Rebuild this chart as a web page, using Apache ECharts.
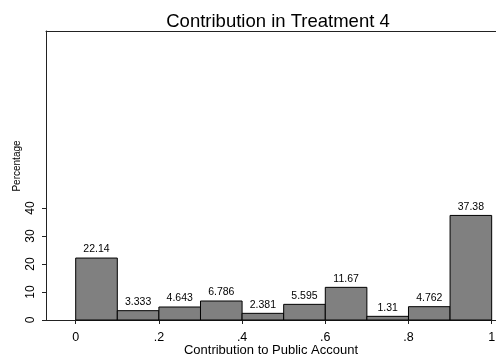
<!DOCTYPE html>
<html>
<head>
<meta charset="utf-8">
<script src="https://cdn.jsdelivr.net/npm/echarts@6/dist/echarts.min.js"></script>
<style>
  html, body { margin: 0; padding: 0; background: #fff; }
  #chart { width: 496px; height: 358px; }
</style>
</head>
<body>
<div id="chart"></div>
<script>
// Histogram bins (lower edge, upper edge) and their percentages
const binStarts = [0, 0.1, 0.2, 0.3, 0.4, 0.5, 0.6, 0.7, 0.8, 0.9];
const binWidth = 0.1;
const percentages = [22.14, 3.333, 4.643, 6.786, 2.381, 5.595, 11.67, 1.31, 4.762, 37.38];
const percentLabels = ['22.14', '3.333', '4.643', '6.786', '2.381', '5.595', '11.67', '1.31', '4.762', '37.38'];
const xTicks = [0, 0.2, 0.4, 0.6, 0.8, 1];
const xTickLabels = ['0', '.2', '.4', '.6', '.8', '1'];
const yTicks = [0, 10, 20, 30, 40];

const font = 'Liberation Sans, Arial, Helvetica, sans-serif';
const chart = echarts.init(document.getElementById('chart'), null, { renderer: 'canvas' });

const data = binStarts.map((s, i) => [s, s + binWidth, percentages[i], percentLabels[i]]);
const xMin = -0.0714, xMax = 1.0104;

chart.setOption({
  animation: false,
  backgroundColor: '#fff',
  title: {
    text: 'Contribution in Treatment 4',
    left: 273, top: 7, textAlign: 'center',
    textStyle: { fontFamily: font, fontSize: 18.5, fontWeight: 'normal', color: '#000' }
  },
  graphic: [{
    type: 'text', x: 17, y: 166, rotation: Math.PI / 2,
    style: { text: 'Percentage', font: '10px ' + font, fill: '#000', align: 'center', verticalAlign: 'middle' }
  }],
  grid: { left: 46, right: 0, top: 31, bottom: 38, containLabel: false, outerBoundsMode: 'none' },
  xAxis: [{
    type: 'value', min: xMin, max: xMax,
    name: 'Contribution to Public Account', nameLocation: 'middle', nameGap: 24,
    nameMoveOverlap: false,
    nameTextStyle: { fontFamily: font, fontSize: 13, color: '#000' },
    splitLine: { show: false },
    axisLine: { show: true, onZero: false, lineStyle: { color: '#222', width: 1 } },
    axisTick: { show: true, length: 4, lineStyle: { color: '#222' }, customValues: xTicks },
    axisLabel: {
      show: true, customValues: xTicks, margin: 11,
      fontFamily: font, fontSize: 12.5, color: '#000',
      formatter: v => xTickLabels[xTicks.findIndex(t => Math.abs(t - v) < 1e-6)]
    }
  }, {
    type: 'value', position: 'top', min: xMin, max: xMax,
    splitLine: { show: false },
    axisLine: { show: true, onZero: false, lineStyle: { color: '#222', width: 1 } },
    axisTick: { show: false }, axisLabel: { show: false }
  }],
  yAxis: {
    type: 'value', min: 0, max: 103.3,
    splitLine: { show: false },
    axisLine: { show: true, onZero: false, lineStyle: { color: '#222', width: 1 } },
    axisTick: { show: true, length: 4, lineStyle: { color: '#222' }, customValues: yTicks },
    axisLabel: {
      show: true, customValues: yTicks, rotate: 90, margin: 9,
      fontFamily: font, fontSize: 12, color: '#000'
    }
  },
  series: [{
    type: 'custom',
    data: data,
    encode: { x: [0, 1], y: 2 },
    renderItem: function (params, api) {
      const p0 = api.coord([api.value(0), 0]);
      const p1 = api.coord([api.value(1), api.value(2)]);
      const label = data[params.dataIndex][3];
      return {
        type: 'group',
        children: [{
          type: 'rect',
          shape: { x: p0[0], y: p1[1], width: p1[0] - p0[0], height: p0[1] - p1[1] },
          style: { fill: '#808080', stroke: '#000', lineWidth: 1 }
        }, {
          type: 'text',
          x: (p0[0] + p1[0]) / 2, y: p1[1] - 3,
          style: { text: label, font: '10.5px ' + font, fill: '#000', align: 'center', verticalAlign: 'bottom' }
        }]
      };
    }
  }]
});
</script>
</body>
</html>
